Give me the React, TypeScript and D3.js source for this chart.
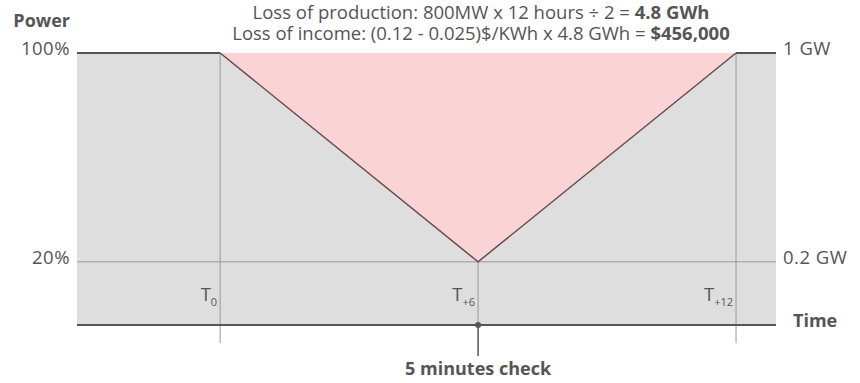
import React from "react";
import * as d3 from "d3";

// Time axis in hours relative to the outage start
const timeDomain = [-3.33, 12.93];
const markerHours = [0, 6, 12];
const markerSubs = ["0", "+6", "+12"];

// Power output profile (% of capacity) over time
const profileHours = [-3.33, 0, 6, 12, 12.93];
const profilePower = [100, 100, 20, 100, 100];

// Lost production triangle
const lossHours = [0, 6, 12];
const lossPower = [100, 20, 100];

const leftTicks = [100, 20];
const leftLabels = ["100%", "20%"];
const rightLabels = ["1 GW", "0.2 GW"];

const titleLine1 = "Loss of production: 800MW x 12 hours ÷ 2 = ";
const titleBold1 = "4.8 GWh";
const titleLine2 = "Loss of income: (0.12 - 0.025)$/KWh x 4.8 GWh = ";
const titleBold2 = "$456,000";

const W = 860;
const H = 383;
const FONT = "'Open Sans', Lato, sans-serif";
const TEXT = "#555";
const FS = 18.5;

export default function App() {
  const x = d3.scaleLinear().domain(timeDomain).range([77, 776]);
  const y = d3.scaleLinear().domain([-4.2, 100]).range([325, 53]);

  const profile = profileHours.map((h, i) => [h, profilePower[i]] as [number, number]);
  const loss = lossHours.map((h, i) => [h, lossPower[i]] as [number, number]);

  const line = d3.line<[number, number]>().x((d) => x(d[0])).y((d) => y(d[1]));
  const area = d3
    .area<[number, number]>()
    .x((d) => x(d[0]))
    .y0(y(-4.2))
    .y1((d) => y(d[1]));

  const x0 = x(timeDomain[0]);
  const x1 = x(timeDomain[1]);
  const yBase = y(-4.2);
  const mid = x(6);

  return (
    <svg width={W} height={H} style={{ position: "absolute", left: 0, top: 0 }} fontFamily={FONT}>
      {/* grey area under the power profile */}
      <path d={area(profile) ?? ""} fill="#dedede" />
      {/* lost production */}
      <path d={(line(loss) ?? "") + "Z"} fill="#f9d3d5" />

      {/* 20% reference line */}
      <line x1={x0} x2={x1} y1={y(20)} y2={y(20)} stroke="#999" strokeWidth={1} />

      {/* time markers */}
      {markerHours.map((h, i) => {
        const cx = x(h);
        const top = h === 6 ? y(20) : y(100);
        const bottom = h === 6 ? yBase : yBase + 18;
        return (
          <g key={h}>
            <line x1={cx} x2={cx} y1={top} y2={bottom} stroke="#999" strokeWidth={1} />
            <text x={cx - 3} y={301} textAnchor="end" fill={TEXT} fontSize={FS}>
              T
              <tspan fontSize={11} dy={5}>
                {markerSubs[i]}
              </tspan>
            </text>
          </g>
        );
      })}

      {/* power profile outline */}
      <path d={line(profile.slice(0, 2)) ?? ""} fill="none" stroke="#555" strokeWidth={2} />
      <path d={line(profile.slice(3)) ?? ""} fill="none" stroke="#555" strokeWidth={2} />
      <path d={line(profile.slice(1, 4)) ?? ""} fill="none" stroke="#6b4a4d" strokeWidth={1.5} />

      {/* time axis */}
      <line x1={x0} x2={x1} y1={yBase} y2={yBase} stroke="#555" strokeWidth={2} />
      <line x1={mid} x2={mid} y1={yBase} y2={yBase + 31} stroke="#555" strokeWidth={1.5} />
      <circle cx={mid} cy={yBase} r={3} fill="#555" />
      <text x={mid} y={375} textAnchor="middle" fill={TEXT} fontSize={18} fontWeight="bold">
        5 minutes check
      </text>
      <text x={793} y={327} fill={TEXT} fontSize={18} fontWeight="bold">
        Time
      </text>

      {/* power axis labels */}
      <text x={70} y={27} textAnchor="end" fill={TEXT} fontSize={18} fontWeight="bold">
        Power
      </text>
      {leftTicks.map((v, i) => (
        <g key={v}>
          <text x={70} y={y(v) + 2} textAnchor="end" fill={TEXT} fontSize={FS} letterSpacing={0.5}>
            {leftLabels[i]}
          </text>
          <text x={783} y={y(v) + 2} fill={TEXT} fontSize={FS} letterSpacing={0.5}>
            {rightLabels[i]}
          </text>
        </g>
      ))}

      {/* headline */}
      <text x={481} y={19} textAnchor="middle" fill={TEXT} fontSize={FS}>
        {titleLine1}
        <tspan fontWeight="bold">{titleBold1}</tspan>
      </text>
      <text x={481} y={40} textAnchor="middle" fill={TEXT} fontSize={FS}>
        {titleLine2}
        <tspan fontWeight="bold">{titleBold2}</tspan>
      </text>
    </svg>
  );
}
